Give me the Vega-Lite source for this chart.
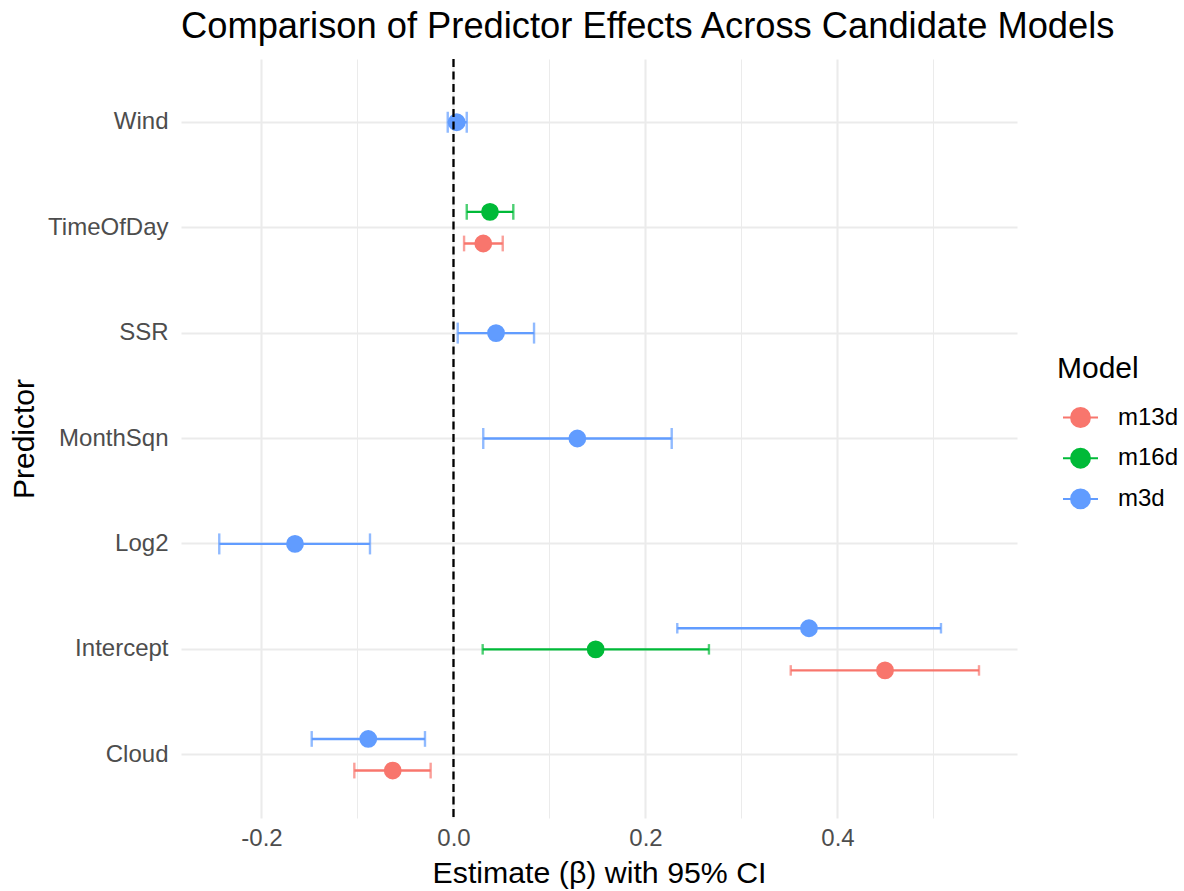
{
  "$schema": "https://vega.github.io/schema/vega-lite/v6.json",
  "width": 836,
  "height": 759,
  "autosize": {"type": "none"},
  "padding": {"left": 181, "top": 59, "right": 167, "bottom": 73},
  "background": "white",
  "title": {
    "text": "Comparison of Predictor Effects Across Candidate Models",
    "anchor": "start",
    "frame": "group",
    "fontSize": 36.3,
    "fontWeight": "normal",
    "color": "#000000",
    "baseline": "alphabetic",
    "offset": -16
  },
  "data": {
    "values": [
      {"Predictor": "Wind", "Model": "m3d", "est": 0.0033, "lo": -0.0060, "hi": 0.0138},
      {"Predictor": "TimeOfDay", "Model": "m16d", "est": 0.0380, "lo": 0.0138, "hi": 0.0623},
      {"Predictor": "TimeOfDay", "Model": "m13d", "est": 0.0310, "lo": 0.0110, "hi": 0.0513},
      {"Predictor": "SSR", "Model": "m3d", "est": 0.0443, "lo": 0.0044, "hi": 0.0839},
      {"Predictor": "MonthSqn", "Model": "m3d", "est": 0.1290, "lo": 0.0310, "hi": 0.2273},
      {"Predictor": "Log2", "Model": "m3d", "est": -0.1651, "lo": -0.2440, "hi": -0.0870},
      {"Predictor": "Intercept", "Model": "m3d", "est": 0.3703, "lo": 0.2331, "hi": 0.5078},
      {"Predictor": "Intercept", "Model": "m16d", "est": 0.1481, "lo": 0.0304, "hi": 0.2661},
      {"Predictor": "Intercept", "Model": "m13d", "est": 0.4495, "lo": 0.3513, "hi": 0.5474},
      {"Predictor": "Cloud", "Model": "m3d", "est": -0.0888, "lo": -0.1477, "hi": -0.0297},
      {"Predictor": "Cloud", "Model": "m13d", "est": -0.0633, "lo": -0.1033, "hi": -0.0238}
    ]
  },
  "transform": [
    {
      "window": [{"op": "count", "as": "n"}, {"op": "rank", "as": "r"}],
      "groupby": ["Predictor"],
      "sort": [{"field": "Model", "order": "ascending"}],
      "frame": [null, null]
    },
    {"calculate": "(datum.r - (datum.n + 1) / 2) * 0.6 / datum.n", "as": "off"}
  ],
  "layer": [
    {
      "mark": {"type": "rule", "strokeWidth": 2.4},
      "encoding": {
        "y": {
          "field": "Predictor",
          "type": "nominal",
          "scale": {"type": "band", "paddingInner": 0, "paddingOuter": 0.1, "domain": ["Wind", "TimeOfDay", "SSR", "MonthSqn", "Log2", "Intercept", "Cloud"]},
          "axis": {
            "title": "Predictor",
            "titleFontSize": 30,
            "titleFontWeight": "normal",
            "titleColor": "#000000",
            "titleX": -148,
            "titleY": 379.5,
            "titleAngle": 270,
            "titleAlign": "center",
            "titleBaseline": "alphabetic",
            "labelFontSize": 24,
            "labelColor": "#4D4D4D",
            "labelPadding": 13,
            "ticks": false,
            "tickSize": 0,
            "domain": false,
            "grid": true,
            "bandPosition": 0.5,
            "gridColor": "#EBEBEB",
            "gridWidth": 2.1
          }
        },
        "yOffset": {"field": "off", "type": "quantitative", "scale": {"domain": [-0.5, 0.5], "range": [105.42, 0]}},
        "x": {
          "field": "lo",
          "type": "quantitative",
          "scale": {"domain": [-0.28385, 0.58698], "nice": false, "zero": false},
          "axis": {
            "title": "Estimate (β) with 95% CI",
            "titleFontSize": 30.3,
            "titleFontWeight": "normal",
            "titleColor": "#000000",
            "titleX": 418,
            "titleY": 64,
            "titleAlign": "center",
            "titleBaseline": "alphabetic",
            "values": [-0.2, -0.1, 0, 0.1, 0.2, 0.3, 0.4, 0.5],
            "labelExpr": "abs((datum.value * 10) % 2) > 0.5 ? '' : replace(format(datum.value, '.1f'), '\u2212', '-')",
            "labelFontSize": 24,
            "labelColor": "#4D4D4D",
            "labelBaseline": "alphabetic",
            "labelPadding": 27,
            "ticks": false,
            "tickSize": 0,
            "domain": false,
            "grid": true,
            "gridColor": "#EBEBEB",
            "gridWidth": {"condition": {"test": "abs((datum.value * 10) % 2) > 0.5", "value": 1.05}, "value": 2.1}
          }
        },
        "x2": {"field": "hi"},
        "color": {"field": "Model", "type": "nominal", "scale": {"range": ["#F8766D", "#00BA38", "#619CFF"]}, "legend": null}
      }
    },
    {
      "mark": {"type": "tick", "orient": "vertical", "thickness": 2.4},
      "encoding": {
        "y": {"field": "Predictor", "type": "nominal"},
        "yOffset": {"field": "off", "type": "quantitative", "scale": {"domain": [-0.5, 0.5], "range": [105.42, 0]}},
        "x": {"field": "lo", "type": "quantitative"},
        "size": {"field": "n", "type": "ordinal", "scale": {"domain": [1, 2, 3], "range": [21, 10.5, 7]}, "legend": null},
        "color": {"field": "Model", "type": "nominal", "legend": null}
      }
    },
    {
      "mark": {"type": "tick", "orient": "vertical", "thickness": 2.4},
      "encoding": {
        "y": {"field": "Predictor", "type": "nominal"},
        "yOffset": {"field": "off", "type": "quantitative", "scale": {"domain": [-0.5, 0.5], "range": [105.42, 0]}},
        "x": {"field": "hi", "type": "quantitative"},
        "size": {"field": "n", "type": "ordinal", "legend": null},
        "color": {"field": "Model", "type": "nominal", "legend": null}
      }
    },
    {
      "mark": {"type": "point", "shape": "circle", "filled": true, "size": 250, "strokeWidth": 2, "opacity": 1},
      "encoding": {
        "y": {"field": "Predictor", "type": "nominal"},
        "yOffset": {"field": "off", "type": "quantitative", "scale": {"domain": [-0.5, 0.5], "range": [105.42, 0]}},
        "x": {"field": "est", "type": "quantitative"},
        "fill": {
          "field": "Model",
          "type": "nominal",
          "scale": {"domain": ["m13d", "m16d", "m3d"], "range": ["#F8766D", "#00BA38", "#619CFF"]},
          "legend": {
            "title": "Model",
            "orient": "none",
            "legendX": 876,
            "legendY": 295,
            "direction": "vertical",
            "padding": 0,
            "titleFontSize": 30,
            "titleFontWeight": "normal",
            "titleColor": "#000000",
            "titlePadding": 15,
            "labelFontSize": 24,
            "labelColor": "#000000",
            "labelOffset": 19,
            "symbolType": "M-1,0L1,0M0.54,0A0.54,0.54,0,1,1,-0.54,0A0.54,0.54,0,1,1,0.54,0Z",
            "symbolSize": 1225,
            "symbolStrokeWidth": 2,
            "symbolOffset": 5,
            "symbolOpacity": 1,
            "rowPadding": 8.7,
            "encode": {
              "symbols": {
                "update": {
                  "stroke": {"scale": "fill", "field": "value"},
                  "strokeWidth": {"value": 2},
                  "opacity": {"value": 1}
                }
              }
            }
          }
        },
        "stroke": {"field": "Model", "type": "nominal", "scale": {"range": ["#F8766D", "#00BA38", "#619CFF"]}, "legend": null}
      }
    },
    {
      "data": {"values": [{}]},
      "mark": {"type": "rule", "color": "#000000", "strokeWidth": 2.3, "strokeDash": [8, 4.5]},
      "encoding": {"x": {"datum": 0, "type": "quantitative"}}
    }
  ],
  "config": {
    "font": "Liberation Sans",
    "view": {"stroke": null}
  }
}
